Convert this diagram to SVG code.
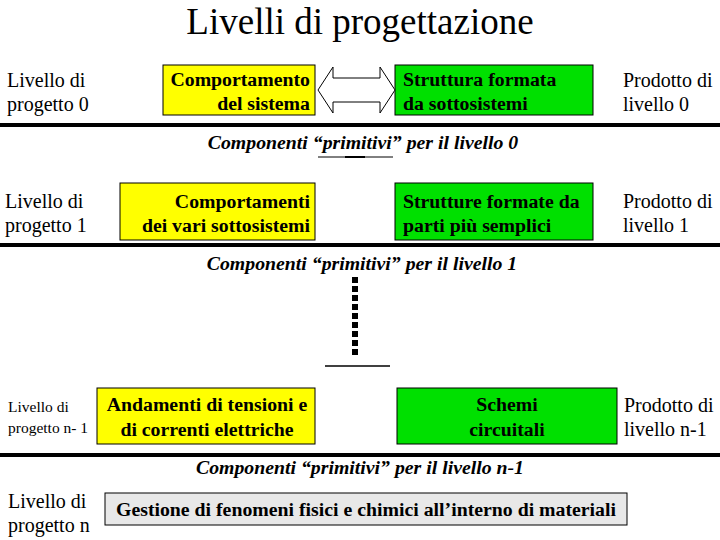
<svg xmlns="http://www.w3.org/2000/svg" width="720" height="540" viewBox="0 0 720 540">
<style>
text{font-family:"Liberation Serif","Times New Roman",serif;fill:#000}
.title{font-size:37px}
.lab{font-size:20px}
.labs{font-size:15.5px}
.bx{font-size:19.8px;font-weight:bold}
.prim{font-size:19.8px;font-weight:bold;font-style:italic}
.y{fill:#ffff00;stroke:#000;stroke-width:1}
.g{fill:#00e000;stroke:#000;stroke-width:1}
.gr{fill:#e8e8e8;stroke:#000;stroke-width:1}
.sep{stroke:#000;stroke-width:4}
</style>
<rect width="720" height="540" fill="#fff"/>
<text class="title" x="360" y="34" text-anchor="middle">Livelli di progettazione</text>

<g id="row0">
<g id="label0"><text class="lab" x="7" y="87">Livello di</text><text class="lab" x="7" y="111">progetto 0</text></g>
<g id="beh0"><rect class="y" x="163" y="65" width="152" height="50"/><text class="bx" x="310" y="86" text-anchor="end">Comportamento</text><text class="bx" x="310" y="110" text-anchor="end">del sistema</text></g>
<g id="str0"><rect class="g" x="395" y="65" width="198" height="50"/><text class="bx" x="403" y="86">Struttura formata</text><text class="bx" x="403" y="110">da sottosistemi</text></g>
<g id="prod0"><text class="lab" x="623" y="87">Prodotto di</text><text class="lab" x="623" y="111">livello 0</text></g>
</g>

<g id="row1">
<g id="label1"><text class="lab" x="5" y="208">Livello di</text><text class="lab" x="5" y="232">progetto 1</text></g>
<g id="beh1"><rect class="y" x="120" y="183" width="195" height="57"/><text class="bx" x="310" y="208" text-anchor="end">Comportamenti</text><text class="bx" x="310" y="232" text-anchor="end">dei vari sottosistemi</text></g>
<g id="str1"><rect class="g" x="395" y="183" width="198" height="57"/><text class="bx" x="403" y="208">Strutture formate da</text><text class="bx" x="403" y="232">parti più semplici</text></g>
<g id="prod1"><text class="lab" x="623" y="208">Prodotto di</text><text class="lab" x="623" y="232">livello 1</text></g>
</g>

<g id="rown1">
<g id="labeln1"><text class="labs" x="8" y="412">Livello di</text><text class="labs" x="8" y="433">progetto n- 1</text></g>
<g id="behn1"><rect class="y" x="97" y="388" width="218" height="56"/><text class="bx" x="207" y="411" text-anchor="middle">Andamenti di tensioni e</text><text class="bx" x="207" y="436" text-anchor="middle">di correnti elettriche</text></g>
<g id="strn1"><rect class="g" x="397" y="388" width="220" height="56"/><text class="bx" x="507" y="411" text-anchor="middle">Schemi</text><text class="bx" x="507" y="436" text-anchor="middle">circuitali</text></g>
<g id="prodn1"><text class="lab" x="624" y="412">Prodotto di</text><text class="lab" x="624" y="436">livello n-1</text></g>
</g>

<g id="rown">
<g id="labeln"><text class="lab" x="8" y="508">Livello di</text><text class="lab" x="8" y="532">progetto n</text></g>
<g id="matn"><rect class="gr" x="105" y="493" width="522" height="32"/><text class="bx" x="366" y="516" text-anchor="middle">Gestione di fenomeni fisici e chimici all’interno di materiali</text></g>
</g>

<g id="separators">
<line class="sep" x1="0" y1="125" x2="720" y2="125"/>
<line class="sep" x1="0" y1="245" x2="720" y2="245"/>
<line class="sep" x1="0" y1="455" x2="720" y2="455"/>
<text class="prim" x="363" y="149" text-anchor="middle">Componenti “primitivi” per il livello 0</text>
<text class="prim" x="362" y="270" text-anchor="middle">Componenti “primitivi” per il livello 1</text>
<text class="prim" x="360" y="474" text-anchor="middle">Componenti “primitivi” per il livello n-1</text>
</g>

<g id="connectors">
<path d="M318,90 L333,67 L333,78 L380,78 L380,67 L395,90 L380,113 L380,102 L333,102 L333,113 Z" fill="#fff" stroke="#000" stroke-width="1"/>
<line x1="318" y1="157" x2="393" y2="157" stroke="#000" stroke-width="1"/>
<line x1="345" y1="157" x2="365" y2="157" stroke="#000" stroke-width="2"/>
<line x1="355" y1="277" x2="355" y2="357" stroke="#000" stroke-width="6" stroke-dasharray="6,3"/>
<line x1="325" y1="366" x2="390" y2="366" stroke="#000" stroke-width="1.5"/>
</g>
</svg>
